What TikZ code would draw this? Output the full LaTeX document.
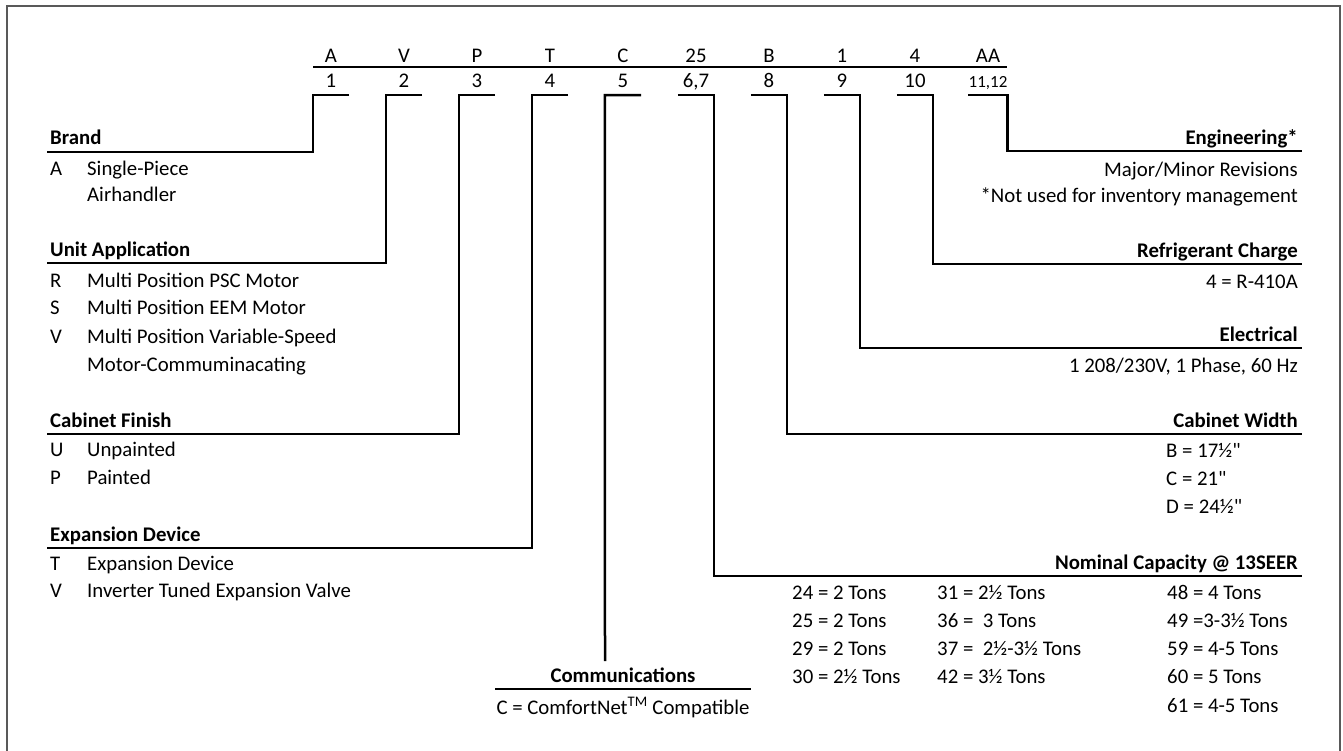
\documentclass[tikz,border=0pt]{standalone}
\usepackage{fontspec}
\setmainfont{Carlito}[Ligatures=TeXOff]
\usetikzlibrary{calc}

\begin{document}
\begin{tikzpicture}[x=1pt,y=-1pt,
  frame/.style={draw=black!65, line width=1.5pt},
  conn/.style={line width=2.5pt, line join=miter},
  rule/.style={line width=2.5pt},
  txt/.style={inner sep=0pt, font=\fontsize{20.8}{24}\selectfont},
  head/.style={txt, font=\fontsize{20.8}{24}\selectfont\bfseries},
  posbox/.style={txt, anchor=base, minimum width=36pt, text depth=8pt},
  lft/.style={txt, anchor=base west},
  rgt/.style={txt, anchor=base east}]
\useasboundingbox (0,0) rectangle (1343,750);
\draw[frame] (7,752) -- (7,6) -- (1340,6) -- (1340,752);

% model number and positions
\foreach \c [count=\i] in {A,V,P,T,C,25,B,1,4,AA}
  \node[txt, anchor=base] (c\i) at ({331+73*(\i-1)},62) {\c};
\foreach \n [count=\i] in {1,2,3,4,5,{6,7},8,9,10}
  \node[posbox] (p\i) at ({331+73*(\i-1)},87) {\n};
\node[posbox, font=\fontsize{17}{20}\selectfont] (p10) at (988,87) {11,12};
\draw[rule] (313,67) -- (1007,67);

% line ends
\coordinate (brand-end) at (47,152);
\coordinate (unit-end) at (47,263);
\coordinate (finish-end) at (47,434);
\coordinate (exp-end) at (47,548);
\coordinate (comm-end) at (605,661);
\coordinate (nom-end) at (1302,576);
\coordinate (width-end) at (1302,434);
\coordinate (elec-end) at (1302,348);
\coordinate (refr-end) at (1302,264);
\coordinate (eng-end) at (1302,151);

\draw[conn] (p1.south east) -- (p1.south west) |- (brand-end);
\draw[conn] (p2.south east) -- (p2.south west) |- (unit-end);
\draw[conn] (p3.south east) -- (p3.south west) |- (finish-end);
\draw[conn] (p4.south east) -- (p4.south west) |- (exp-end);
\draw[conn] (p5.south east) -- (p5.south west) -- (comm-end);
\draw[conn] (p6.south west) -- (p6.south east) |- (nom-end);
\draw[conn] (p7.south west) -- (p7.south east) |- (width-end);
\draw[conn] (p8.south west) -- (p8.south east) |- (elec-end);
\draw[conn] (p9.south west) -- (p9.south east) |- (refr-end);
\draw[conn] (p10.south west) -- (p10.south east) |- (eng-end);

% left side
\node[head, anchor=base west] (brand) at (50,144) {Brand};
\node[lft] (brand-a) at (50,175) {A};
\node[lft] at (87,175) {Single-Piece};
\node[lft] at (87,201) {Airhandler};

\node[head, anchor=base west] (unit) at (50,256) {Unit Application};
\node[lft] at (50,287) {R};
\node[lft] at (87,287) {Multi Position PSC Motor};
\node[lft] at (50,314) {S};
\node[lft] at (87,314) {Multi Position EEM Motor};
\node[lft] at (50,343) {V};
\node[lft] at (87,343) {Multi Position Variable-Speed};
\node[lft] at (87,371) {Motor-Commuminacating};

\node[head, anchor=base west] (finish) at (50,427) {Cabinet Finish};
\node[lft] at (50,456) {U};
\node[lft] at (87,456) {Unpainted};
\node[lft] at (50,484) {P};
\node[lft] at (87,484) {Painted};

\node[head, anchor=base west] (exp) at (50,541) {Expansion Device};
\node[lft] at (50,570) {T};
\node[lft] at (87,570) {Expansion Device};
\node[lft] at (50,597) {V};
\node[lft] at (87,597) {Inverter Tuned Expansion Valve};

% communications
\node[head, anchor=base] (comm) at (623,682) {Communications};
\draw[rule] (495,689) -- (751,689);
\node[txt, anchor=base] (comm-c) at (623,714) {C = ComfortNet\textsuperscript{TM} Compatible};

% right side
\node[head, anchor=base east] (eng) at (1298,144) {Engineering*};
\node[rgt] at (1298,176) {Major/Minor Revisions};
\node[rgt] at (1298,202) {*Not used for inventory management};

\node[head, anchor=base east] (refr) at (1298,257) {Refrigerant Charge};
\node[rgt] at (1298,288) {4 = R-410A};

\node[head, anchor=base east] (elec) at (1298,341) {Electrical};
\node[rgt] at (1298,372) {1 208/230V, 1 Phase, 60 Hz};

\node[head, anchor=base east] (width) at (1298,427) {Cabinet Width};
\node[lft] at (1166,457) {B = 17½"};
\node[lft] at (1166,485) {C = 21"};
\node[lft] at (1166,513) {D = 24½"};

\node[head, anchor=base east] (nom) at (1298,569) {Nominal Capacity @ 13SEER};
\node[lft] at (792,599) {24 = 2 Tons};
\node[lft] at (792,627) {25 = 2 Tons};
\node[lft] at (792,655) {29 = 2 Tons};
\node[lft] at (792,683) {30 = 2½ Tons};
\node[lft] at (937,599) {31 = 2½ Tons};
\node[lft] at (937,627) {36 = \ 3 Tons};
\node[lft] at (937,655) {37 = \ 2½-3½ Tons};
\node[lft] at (937,683) {42 = 3½ Tons};
\node[lft] at (1167,599) {48 = 4 Tons};
\node[lft] at (1167,627) {49 =3-3½ Tons};
\node[lft] at (1167,655) {59 = 4-5 Tons};
\node[lft] at (1167,683) {60 = 5 Tons};
\node[lft] at (1167,712) {61 = 4-5 Tons};
\end{tikzpicture}
\end{document}
